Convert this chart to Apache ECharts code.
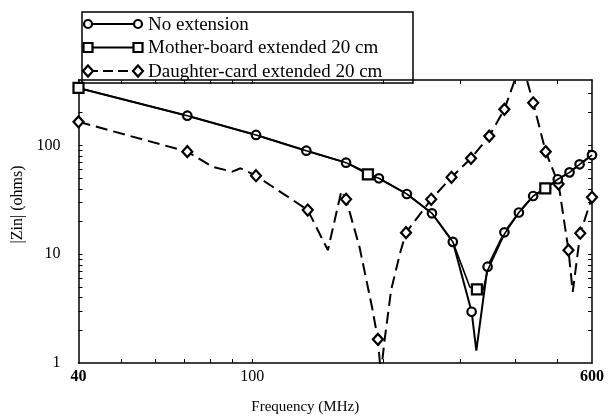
<!DOCTYPE html>
<html>
<head>
<meta charset="utf-8">
<style>
  html, body { margin: 0; padding: 0; background: #fff; }
  #chart { width: 608px; height: 418px; }
</style>
</head>
<body>
<div id="chart"></div>
<script src="https://cdn.jsdelivr.net/npm/echarts@6/dist/echarts.min.js"></script>
<script>
// * |Zin| vs frequency, log-log

// ? No extension (circles)
const noExtFreq = [40, 71, 102, 133, 164, 195, 226, 258, 288, 318, 326, 346, 378, 408, 440, 471, 501, 533, 562, 600]
const noExtZ = [338, 188, 125, 89.5, 69.5, 49.9, 35.8, 23.8, 13.0, 2.96, 1.3, 7.68, 15.9, 24.2, 34.3, 40.5, 48.9, 56.6, 67.1, 81.7]
const noExtMarks = [40, 71, 102, 133, 164, 195, 226, 258, 288, 318, 346, 378, 408, 440, 471, 501, 533, 562, 600]

// ? Mother-board extended 20 cm (squares)
const mbFreq = [40, 71, 102, 133, 164, 184, 195, 226, 258, 288, 315, 327, 338, 346, 378, 408, 440, 469, 501, 533, 562, 600]
const mbZ = [338, 188, 125, 89.5, 69.5, 54.3, 49.9, 35.8, 23.8, 13.0, 5.0, 4.76, 4.7, 7.1, 15.3, 24.2, 34.3, 40.4, 48.9, 56.6, 67.1, 81.7]
const mbMarks = [40, 184, 327, 469]

// ? Daughter-card extended 20 cm (diamonds)
const dcFreq = [40, 71, 81, 90, 94, 102, 134, 149, 160, 164, 176, 188, 194, 197, 201, 208, 218, 225, 257, 286, 317, 349, 378, 414, 440, 470, 503, 530, 542, 564, 600]
const dcZ = [165, 87.7, 63.8, 57.4, 61.7, 52.7, 25.5, 10.9, 38.1, 32.0, 11.7, 3.29, 1.65, 0.8, 1.63, 4.69, 10.2, 15.8, 32.0, 51.0, 76.2, 122, 215, 600, 247, 87.7, 44.2, 10.9, 4.5, 15.6, 33.4]
const dcMarks = [40, 71, 102, 134, 164, 194, 225, 257, 286, 317, 349, 378, 440, 470, 503, 530, 564, 600]

// ? axis ticks / labels
const xTicks = [50, 60, 70, 80, 90, 100, 200, 300, 400, 500]
const xLabels = [40, 100, 600]
const yTicks = [2, 3, 4, 5, 6, 7, 8, 9, 10, 20, 30, 40, 50, 60, 70, 80, 90, 100, 200, 300]
const yLabels = [1, 10, 100]

const legendNames = ['No extension', 'Mother-board extended 20 cm', 'Daughter-card extended 20 cm']

const serif = '"Liberation Serif", "DejaVu Serif", serif'

const chart = echarts.init(document.getElementById('chart'))

function toPoints (freq, z, marks, symbol) {
  return freq.map((f, i) => ({
    value: [f, z[i]],
    symbol: marks.includes(f) ? symbol : 'none'
  }))
}

const axisLine = { show: true, onZero: false, lineStyle: { color: '#000', width: 1.5 } }

function tickStyle (values) {
  return { show: true, inside: true, length: 4, customValues: values, lineStyle: { color: '#000', width: 1 } }
}

// ? legend drawn by hand: marker — line — marker
function legendRow (i, symbol, dashed) {
  const y = 12 + i * 23.5
  const mark = (cx) => {
    const s = { fill: '#fff', stroke: '#000', lineWidth: 2.2 }
    if (symbol === 'circle') return { type: 'circle', shape: { cx, cy: y, r: 4 }, style: s }
    if (symbol === 'rect') return { type: 'rect', shape: { x: cx - 4.5, y: y - 4.5, width: 9, height: 9 }, style: s }
    return { type: 'polygon', shape: { points: [[cx, y - 5.5], [cx + 5, y], [cx, y + 5.5], [cx - 5, y]] }, style: s }
  }
  return [
    {
      type: 'line',
      shape: { x1: 6, y1: y, x2: 56, y2: y },
      style: { stroke: '#000', lineWidth: 2, lineDash: dashed ? [10, 5] : null }
    },
    mark(6),
    mark(56),
    {
      type: 'text',
      x: 66,
      y: y + 1,
      style: { text: legendNames[i], fontSize: 19, fontFamily: serif, fill: '#000', verticalAlign: 'middle' }
    }
  ]
}

const option = {
  animation: false,
  backgroundColor: '#fff',
  // ? keep the plot box fixed, labels sit outside it
  grid: { left: 78.5, right: 16, top: 80, bottom: 55, outerBoundsMode: 'none', containLabel: false },
  xAxis: [
    {
      type: 'log',
      logBase: 10,
      min: 40,
      max: 600,
      position: 'bottom',
      name: 'Frequency (MHz)',
      nameLocation: 'middle',
      nameGap: 37,
      nameTextStyle: { fontFamily: serif, fontSize: 15, color: '#000', padding: [0, 60, 0, 0] },
      axisLine,
      axisTick: tickStyle(xTicks),
      axisLabel: {
        customValues: xLabels,
        margin: 6,
        color: '#000',
        fontFamily: serif,
        fontSize: 16,
        formatter: (v) => (v === 100 ? '100' : '{b|' + v + '}'),
        rich: { b: { fontFamily: serif, fontSize: 16, fontWeight: 'bold', color: '#000' } }
      },
      splitLine: { show: false }
    },
    {
      type: 'log',
      logBase: 10,
      min: 40,
      max: 600,
      position: 'top',
      axisLine,
      axisTick: tickStyle(xTicks),
      axisLabel: { show: false },
      splitLine: { show: false }
    }
  ],
  yAxis: [
    {
      type: 'log',
      logBase: 10,
      min: 1,
      max: 400,
      position: 'left',
      name: '|Zin| (ohms)',
      nameLocation: 'middle',
      nameGap: 53,
      nameTextStyle: { fontFamily: serif, fontSize: 16, color: '#000', padding: [0, 0, 0, 34] },
      axisLine,
      axisTick: tickStyle(yTicks),
      axisLabel: { customValues: yLabels, margin: 18, color: '#000', fontFamily: serif, fontSize: 16 },
      splitLine: { show: false }
    },
    {
      type: 'log',
      logBase: 10,
      min: 1,
      max: 400,
      position: 'right',
      axisLine,
      axisTick: tickStyle(yTicks),
      axisLabel: { show: false },
      splitLine: { show: false }
    }
  ],
  series: [
    {
      name: legendNames[2],
      type: 'line',
      data: toPoints(dcFreq, dcZ, dcMarks, 'diamond'),
      symbolSize: [10, 11],
      showAllSymbol: true,
      lineStyle: { color: '#000', width: 2, type: [12, 6] },
      itemStyle: { color: '#fff', borderColor: '#000', borderWidth: 2.2 },
      z: 2
    },
    {
      name: legendNames[0],
      type: 'line',
      data: toPoints(noExtFreq, noExtZ, noExtMarks, 'circle'),
      symbolSize: 8.5,
      showAllSymbol: true,
      lineStyle: { color: '#000', width: 2 },
      itemStyle: { color: '#fff', borderColor: '#000', borderWidth: 2.2 },
      z: 3
    },
    {
      name: legendNames[1],
      type: 'line',
      data: toPoints(mbFreq, mbZ, mbMarks, 'rect'),
      symbolSize: 10,
      showAllSymbol: true,
      lineStyle: { color: '#000', width: 1.6 },
      itemStyle: { color: '#fff', borderColor: '#000', borderWidth: 2.2 },
      z: 4
    }
  ],
  graphic: [
    {
      type: 'group',
      x: 82,
      y: 12,
      z: 100,
      children: [
        { type: 'rect', shape: { x: 0, y: 0, width: 331, height: 71 }, style: { fill: '#fff', stroke: '#000', lineWidth: 1.5 } },
        ...legendRow(0, 'circle', false),
        ...legendRow(1, 'rect', false),
        ...legendRow(2, 'diamond', true)
      ]
    }
  ]
}

chart.setOption(option)
</script>
</body>
</html>
